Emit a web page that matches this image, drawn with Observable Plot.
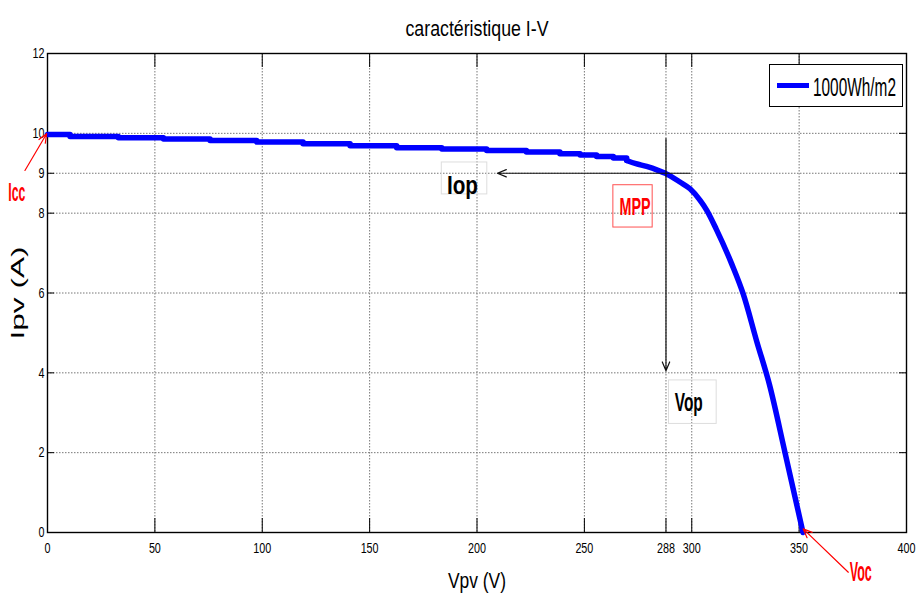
<!DOCTYPE html>
<html><head><meta charset="utf-8">
<script src="https://cdn.jsdelivr.net/npm/d3@7"></script>
<script src="https://cdn.jsdelivr.net/npm/@observablehq/plot@0.6"></script>
<style>
body{margin:0;background:#fff;}
#wrap{position:relative;width:916px;height:594px;overflow:hidden;}
#wrap svg{position:absolute;left:0;top:0;}
#legend{position:absolute;left:769px;top:64px;width:134px;height:43px;border:1px solid #000;background:#fff;box-sizing:border-box;}
#legend .sw{position:absolute;left:7px;top:18px;width:32px;height:5px;background:#0000ff;}
#legend .lb{position:absolute;left:43px;top:12px;line-height:19px;font-size:19px;font-family:'Liberation Sans Narrow','Liberation Sans',sans-serif;color:#000;white-space:nowrap;transform-origin:left center;}
</style></head>
<body><div id="wrap"></div>
<script>
// Flat (stepped) part of the I-V curve: voltage where each step starts, current level
const stepV = [0, 10.5, 33, 54, 75.7, 97.4, 119, 140.9, 162.6, 183.6, 204.5, 223, 238.6, 248, 255.7, 263.5, 269.7];
const stepI = [9.97, 9.92, 9.89, 9.86, 9.82, 9.78, 9.74, 9.69, 9.64, 9.61, 9.57, 9.53, 9.49, 9.46, 9.42, 9.38, 9.32];
// Knee and drop part
const kneeV = [269.7, 274, 279, 284, 288, 294.5, 299.2, 303.9, 307, 311.4, 318.6, 324, 330.2, 336.2, 343.4, 351.8];
const kneeI = [9.32, 9.24, 9.17, 9.08, 8.99, 8.78, 8.61, 8.32, 8.07, 7.6, 6.73, 5.97, 4.8, 3.7, 2.01, 0];

const xTicks = [0, 50, 100, 150, 200, 250, 288, 300, 350, 400];
const yTicks = [0, 2, 4, 6, 8, 9, 10, 12];

const title = "caractéristique I-V";
const xLabel = "Vpv (V)";
const yLabel = "Ipv (A)";
const legendLabel = "1000Wh/m2";

// annotation labels (position in V, I)
const annLabel = ["Iop", "MPP", "Vop", "Icc", "Voc"];
const annV = [193.2, 273.6, 298.6, -14.3, 378.7];
const annI = [8.67, 8.15, 3.25, 8.5, -1.0];
const annColor = ["#000", "#ff0000", "#000", "#ff0000", "#ff0000"];
const annSize = [25, 24, 25, 25, 28];
const annWidth = [31, 31, 28, 17, 22];

// annotation boxes
const boxV1 = [183.6, 263.5, 289.4];
const boxV2 = [204.8, 281.8, 311.6];
const boxI1 = [8.47, 7.64, 2.72];
const boxI2 = [9.27, 8.70, 3.81];
const boxColor = ["#dddddd", "#ff5050", "#dddddd"];

// arrows (from -> to)
const arrowV1 = [299.2, 288, -10.5, 372.9];
const arrowI1 = [9, 9.87, 9.07, -0.995];
const arrowV2 = [209.5, 288, -0.4, 351.9];
const arrowI2 = [9, 4.05, 9.99, 0.09];
const arrowColor = ["#111", "#111", "#ff0000", "#ff0000"];

const steps = stepV.map((v, k) => ({V: v, I: stepI[k]}));
const knee = kneeV.map((v, k) => ({V: v, I: kneeI[k]}));
const anns = annLabel.map((t, k) => ({t, V: annV[k], I: annI[k], c: annColor[k], s: annSize[k]}));
const boxes = boxV1.map((v, k) => ({x1: v, x2: boxV2[k], y1: boxI1[k], y2: boxI2[k], c: boxColor[k]}));
const arrows = arrowV1.map((v, k) => ({x1: v, y1: arrowI1[k], x2: arrowV2[k], y2: arrowI2[k], c: arrowColor[k]}));

const W = 916, H = 594, mL = 47, mR = 10, mT = 53, mB = 62;
const fw = W - mL - mR, fh = H - mT - mB;
const narrow = "'Liberation Sans Narrow','Liberation Sans',sans-serif";

const chart = Plot.plot({
  width: W, height: H,
  marginLeft: mL, marginRight: mR, marginTop: mT, marginBottom: mB,
  style: {fontFamily: narrow, fontSize: "15px", background: "transparent", overflow: "visible", color: "#000"},
  x: {domain: [0, 400], ticks: xTicks, tickSize: 0, tickPadding: 10, label: null, tickFormat: d => String(d)},
  y: {domain: [0, 12], ticks: yTicks, tickSize: 0, tickPadding: 3, label: null, tickFormat: d => String(d)},
  marks: [
    Plot.ruleX(xTicks, {stroke: "#777", strokeDasharray: "1.5,1.5", strokeWidth: 1}),
    Plot.ruleY(yTicks, {stroke: "#777", strokeDasharray: "1.5,1.5", strokeWidth: 1}),
    Plot.ruleX(xTicks, {stroke: "#000", insetTop: fh - 14}),
    Plot.ruleX(xTicks, {stroke: "#000", insetBottom: fh - 14}),
    Plot.ruleY(yTicks, {stroke: "#000", insetRight: fw - 7}),
    Plot.ruleY(yTicks, {stroke: "#000", insetLeft: fw - 7}),
    Plot.frame({stroke: "#000", strokeWidth: 1.4}),
    Plot.rect(boxes, {x1: "x1", x2: "x2", y1: "y1", y2: "y2", fill: "none", stroke: "c", strokeWidth: 1}),
    Plot.line(steps, {x: "V", y: "I", curve: "step-after", stroke: "#0000ff", strokeWidth: 5.5}),
    Plot.line(knee, {x: "V", y: "I", curve: "monotone-x", stroke: "#0000ff", strokeWidth: 5.5}),
    Plot.arrow(arrows, {x1: "x1", y1: "y1", x2: "x2", y2: "y2", stroke: "c", strokeWidth: 1.2, headLength: 12, headAngle: 45}),
    Plot.text(anns, {x: "V", y: "I", text: "t", fill: "c", fontSize: "s", fontWeight: "bold", fontFamily: narrow, textAnchor: "middle", lineAnchor: "middle"}),
    Plot.text([title], {text: d => d, frameAnchor: "top", dy: -24.6, fontSize: 22, fontFamily: narrow, textAnchor: "middle", lineAnchor: "middle"}),
    Plot.text([xLabel], {text: d => d, frameAnchor: "bottom", dy: 48, fontSize: 22, fontFamily: narrow, textAnchor: "middle", lineAnchor: "middle"}),
    Plot.text([yLabel], {text: d => d, frameAnchor: "left", dx: -29.3, rotate: -90, fontSize: 19, fontFamily: "'Liberation Sans',Arial,sans-serif", textAnchor: "middle", lineAnchor: "middle"})
  ]
});

document.getElementById("wrap").appendChild(chart);

// Condensed look of the original lettering
const widths = {[title]: 143, [xLabel]: 58, [yLabel]: 93};
annLabel.forEach((t, k) => widths[t] = annWidth[k]);
d3.select(chart).selectAll("text").each(function() {
  const s = this.textContent;
  let w = null;
  if (/^\d+$/.test(s)) w = 6 * s.length;
  else if (widths[s] != null) w = widths[s];
  if (w != null) {
    this.setAttribute("textLength", w);
    this.setAttribute("lengthAdjust", "spacingAndGlyphs");
  }
});
// y tick labels a little taller; last x tick label kept inside the page edge
d3.select(chart).selectAll("text").each(function() {
  const s = this.textContent;
  if (/^\d+$/.test(s) && this.getAttribute("text-anchor") === "end") this.setAttribute("font-size", 17);
  if (s === String(xTicks[xTicks.length - 1])) {
    this.setAttribute("text-anchor", "end");
    this.setAttribute("dx", "9");
  }
});

const lg = document.createElement("div");
lg.id = "legend";
lg.innerHTML = '<div class="sw"></div><span class="lb"></span>';
const lb = lg.querySelector(".lb");
lb.textContent = legendLabel;
document.getElementById("wrap").appendChild(lg);
const natural = lb.getBoundingClientRect().width;
lb.style.transform = `scale(${(83 / natural).toFixed(3)}, 1.4)`;
</script>
</body></html>
